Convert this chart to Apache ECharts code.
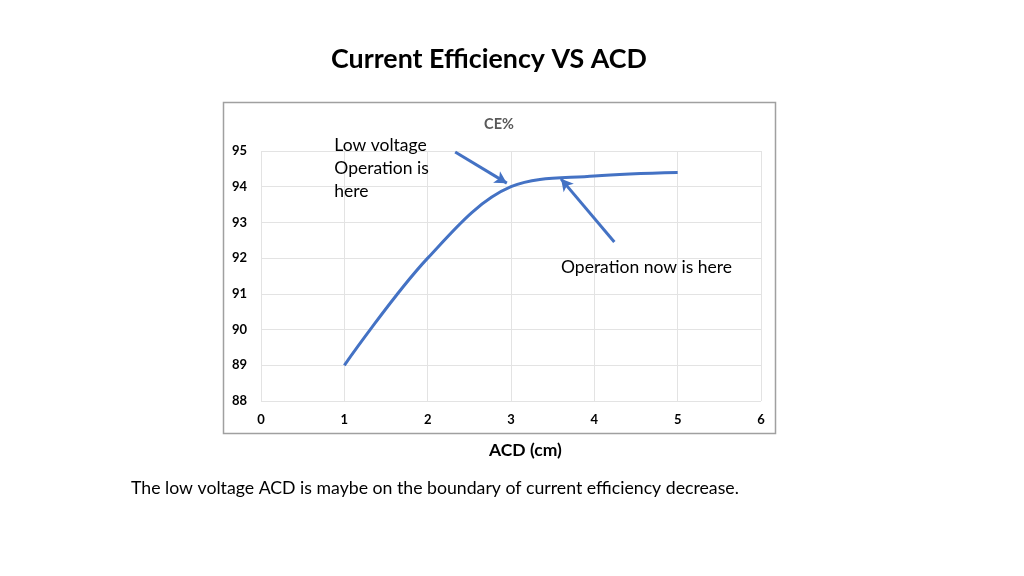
<!DOCTYPE html>
<html><head><meta charset="utf-8">
<script src="https://cdn.jsdelivr.net/npm/echarts@6/dist/echarts.min.js"></script>
<style>html,body{margin:0;padding:0;background:#fff}#c{width:1024px;height:576px}</style>
</head><body><div id="c"></div>
<script>
const acd = [1, 2, 3, 4, 5];
const ce = [89, 92, 94, 94.3, 94.4];
const xTicks = [0, 1, 2, 3, 4, 5, 6];
const yTicks = [88, 89, 90, 91, 92, 93, 94, 95];
const arrowLow = [[2.33, 94.97], [2.95, 94.1]];
const arrowNow = [[4.24, 92.45], [3.6, 94.22]];
const noteLow = [0.88, 94.5];
const noteNow = [3.6, 92.0];

const FONT = 'Lato, "Open Sans", sans-serif';
const chart = echarts.init(document.getElementById('c'));
const blue = '#4472C4';
chart.setOption({
  animation: false,
  backgroundColor: '#fff',
  title: [{
    text: 'Current Efficiency VS ACD', left: 484, top: 41, textAlign: 'center',
    textStyle: {fontFamily: FONT, fontSize: 26.8, fontWeight: 'bold', color: '#000'}
  }, {
    text: 'CE%', left: 494, top: 112, textAlign: 'center',
    textStyle: {fontFamily: FONT, fontSize: 14.5, fontWeight: 'bold', color: '#595959'}
  }],
  graphic: [
    {type: 'rect', shape: {x: 223.5, y: 102.5, width: 552, height: 331}, style: {fill: 'none', stroke: '#a0a0a0', lineWidth: 1.5}, z: -1},
    {type: 'text', left: 489, top: 441, style: {text: 'ACD (cm)', font: 'bold 17.5px ' + FONT, fill: '#000'}},
    {type: 'text', left: 131, top: 479, style: {text: 'The low voltage ACD is maybe on the boundary of current efficiency decrease.', font: '17.7px ' + FONT, fill: '#000'}}
  ],
  grid: {left: 261, right: 263, top: 151, bottom: 175},
  xAxis: {
    type: 'value', min: 0, max: 6, interval: 1,
    axisLine: {show: false}, axisTick: {show: false},
    splitLine: {show: true, lineStyle: {color: '#e3e3e3'}},
    axisLabel: {margin: 12, fontFamily: FONT, fontSize: 13, fontWeight: 'bold', color: '#000',
      formatter: v => xTicks.includes(v) ? String(v) : ''}
  },
  yAxis: {
    type: 'value', min: 88, max: 95, interval: 1,
    axisLine: {show: false}, axisTick: {show: false},
    splitLine: {show: true, lineStyle: {color: '#e3e3e3'}},
    axisLabel: {margin: 14, fontFamily: FONT, fontSize: 13, fontWeight: 'bold', color: '#000',
      formatter: v => yTicks.includes(v) ? String(v) : ''}
  },
  series: [{
    type: 'line', data: acd.map((x, i) => [x, ce[i]]), smooth: 0.35,
    showSymbol: false, lineStyle: {color: blue, width: 3},
    markLine: {
      silent: true, symbol: ['none', 'arrow'], symbolSize: [10, 12],
      lineStyle: {color: blue, width: 3, type: 'solid'}, label: {show: false},
      data: [
        [{coord: arrowLow[0]}, {coord: arrowLow[1]}],
        [{coord: arrowNow[0]}, {coord: arrowNow[1]}]
      ]
    },
    markPoint: {
      symbol: 'rect', symbolSize: 1, itemStyle: {color: 'transparent'},
      data: [
        {coord: noteLow, label: {show: true, position: 'inside', align: 'left', verticalAlign: 'top', offset: [0, -35],
          formatter: 'Low voltage\nOperation is\nhere', fontFamily: FONT, fontSize: 17.5, lineHeight: 23, color: '#000'}},
        {coord: noteNow, label: {show: true, position: 'inside', align: 'left', verticalAlign: 'top',
          formatter: 'Operation now is here', fontFamily: FONT, fontSize: 17.5, color: '#000'}}
      ]
    }
  }]
});
</script></body></html>
